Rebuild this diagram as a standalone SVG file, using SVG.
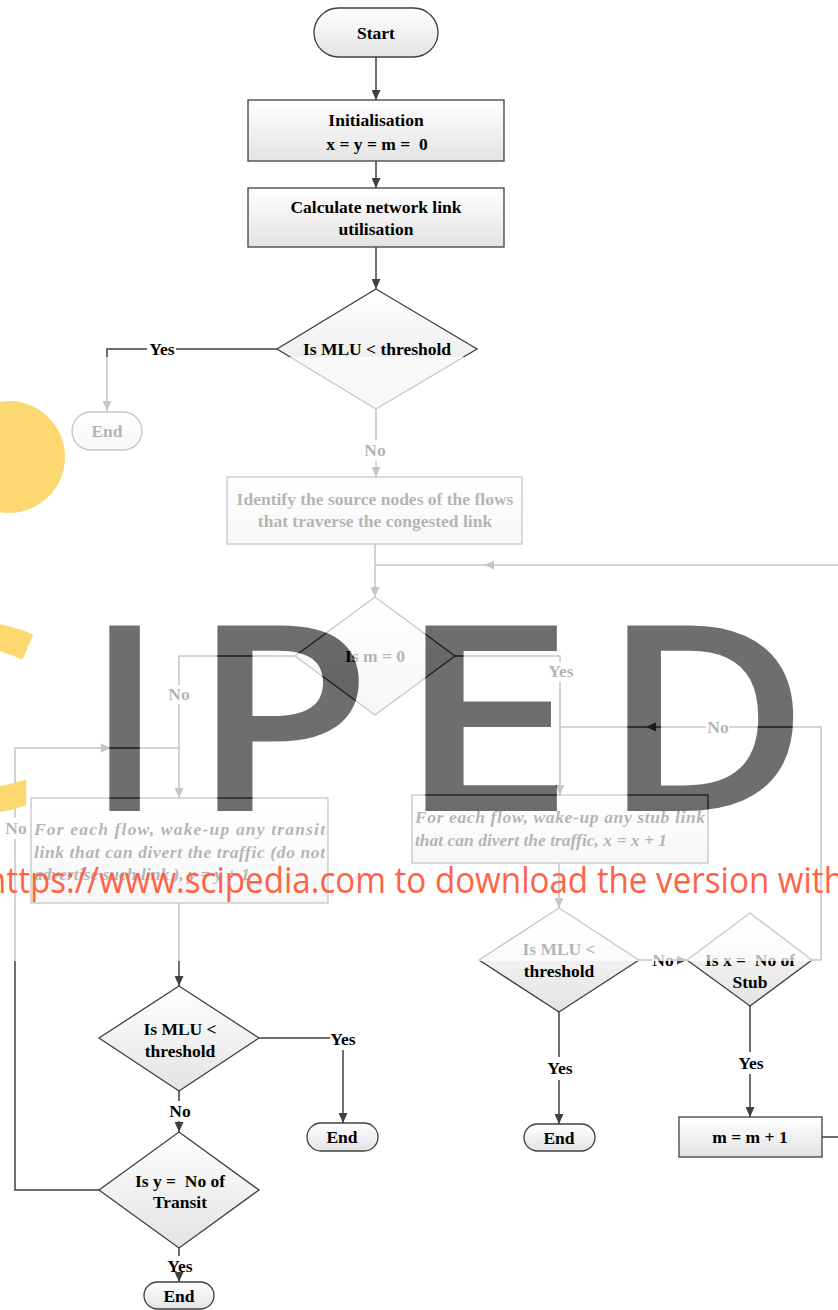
<svg xmlns="http://www.w3.org/2000/svg" xmlns:xlink="http://www.w3.org/1999/xlink" width="838" height="1310" viewBox="0 0 838 1310">
<style>
.n{fill:url(#g);stroke:#404040;stroke-width:1.3}
.t{font-family:"Liberation Serif","Times New Roman",serif;font-weight:bold;font-size:17.5px;fill:#000;text-anchor:middle}
.i{font-style:italic;text-anchor:start}
.c{fill:none;stroke:#404040;stroke-width:1.5}
.a{marker-end:url(#arr)}
.ah{fill:#404040}
</style>
<defs>
<linearGradient id="g" x1="0" y1="0" x2="0" y2="1">
<stop offset="0" stop-color="#ffffff"/>
<stop offset="1" stop-color="#e3e3e3"/>
</linearGradient>
<marker id="arr" markerUnits="userSpaceOnUse" markerWidth="10" markerHeight="9" refX="10" refY="4.5" orient="auto">
<path d="M0,0 L10,4.5 L0,9 z" fill="#404040"/>
</marker>
<g id="wm" font-family="'Open Sans','Noto Sans',sans-serif" font-weight="600" font-size="260">
<text x="85" y="811">I</text>
<text transform="translate(189.4,811) scale(1.15,1)">P</text>
<text transform="translate(395,811) scale(1.25,1)">E</text>
<text transform="translate(600.6,811) scale(1.1,1)">D</text>
</g>
<mask id="mk" maskUnits="userSpaceOnUse" x="0" y="0" width="838" height="1310">
<rect width="838" height="1310" fill="#fff"/>
<use xlink:href="#wm" fill="#000"/>
</mask>
</defs>

<g id="connectors">
<path class="c a" d="M376,57 V100"/>
<path class="c a" d="M376,161 V188"/>
<path class="c a" d="M376,247 V289"/>
<path class="c" d="M277,349 H176"/>
<path class="c a" d="M147,349 H107 V411"/>
<path class="c" d="M376,409 V440"/>
<path class="c a" d="M376,461 V477"/>
<path class="c a" d="M375,544 V597"/>
<path class="c" d="M838,565 H375"/>
<polygon class="ah" points="484,565 494,560.5 494,569.5"/>
<path class="c" d="M295,656 H179 V685"/>
<path class="c a" d="M179,704 V798"/>
<path class="c" d="M455,656 H560 V662"/>
<path class="c a" d="M560,682 V795"/>
<path class="c" d="M99,1190 H15 V839"/>
<path class="c" d="M15,818 V748 H179"/>
<polygon class="ah" points="111,748 101,743.5 101,752.5"/>
<path class="c a" d="M179,903 V986"/>
<path class="c" d="M259,1038 H330"/>
<path class="c a" d="M343,1050 V1123"/>
<path class="c" d="M179,1091 V1101"/>
<path class="c a" d="M179,1121 V1132"/>
<path class="c" d="M179,1248 V1256"/>
<path class="c a" d="M179,1276 V1282"/>
<path class="c a" d="M559,863 V908"/>
<path class="c" d="M639,960 H652"/>
<path class="c a" d="M672,960 H687"/>
<path class="c" d="M812,960 H821 V727 H729"/>
<path class="c" d="M706,727 H560"/>
<polygon class="ah" points="646,727 656,722.5 656,731.5"/>
<path class="c" d="M750,1006 V1052"/>
<path class="c a" d="M750,1074 V1117"/>
<path class="c" d="M559,1012 V1057"/>
<path class="c a" d="M559,1080 V1124"/>
<path class="c" d="M822,1137 H838"/>
</g>

<g id="start"><rect class="n" x="314" y="8" width="124" height="49" rx="24.5"/><text class="t" x="376" y="39">Start</text></g>
<g id="init"><rect class="n" x="248" y="100" width="256" height="61"/><text class="t" x="376" y="126">Initialisation</text><text class="t" x="377" y="150">x = y = m = &#160;0</text></g>
<g id="calc"><rect class="n" x="248" y="188" width="256" height="59"/><text class="t" x="376" y="213">Calculate network link</text><text class="t" x="376" y="235">utilisation</text></g>
<g id="mlu1"><polygon class="n" points="376,289 477,349 376,409 277,349"/><text class="t" x="377" y="355">Is MLU &lt; threshold</text></g>
<g id="end1"><rect class="n" x="72" y="412" width="70" height="38" rx="19"/><text class="t" x="107" y="437">End</text></g>
<g id="identify"><rect class="n" x="227" y="477" width="295" height="67"/><text class="t" x="375" y="505">Identify the source nodes of the flows</text><text class="t" x="375" y="527">that traverse the congested link</text></g>
<g id="m0"><polygon class="n" points="375,597 455,656 375,715 295,656"/><text class="t" x="375" y="662">Is m = 0</text></g>
<g id="transit"><rect class="n" x="31" y="798" width="297" height="105"/>
<text class="t i" x="34" y="835" textLength="291" lengthAdjust="spacing">For each flow, wake-up any transit</text>
<text class="t i" x="34" y="858" textLength="291" lengthAdjust="spacing">link that can divert the traffic (do not</text>
<text class="t i" x="34" y="880">advertise such link ), y = y + 1</text></g>
<g id="stub"><rect class="n" x="412" y="795" width="296" height="68"/>
<text class="t i" x="415" y="823" textLength="290" lengthAdjust="spacing">For each flow, wake-up any stub link</text>
<text class="t i" x="415" y="846">that can divert the traffic, x = x + 1</text></g>
<g id="mlu2"><polygon class="n" points="179,986 259,1038 179,1091 99,1038"/><text class="t" x="180" y="1035">Is MLU &lt;</text><text class="t" x="180" y="1057">threshold</text></g>
<g id="end2"><rect class="n" x="307" y="1123" width="71" height="28" rx="14"/><text class="t" x="342" y="1143">End</text></g>
<g id="ytransit"><polygon class="n" points="179,1132 259,1190 179,1248 99,1190"/><text class="t" x="180" y="1187">Is y = &#160;No of</text><text class="t" x="180" y="1208">Transit</text></g>
<g id="end3"><rect class="n" x="144" y="1282" width="70" height="27" rx="13.5"/><text class="t" x="179" y="1302">End</text></g>
<g id="mlu3"><polygon class="n" points="559,908 639,960 559,1012 479,960"/><text class="t" x="559" y="955">Is MLU &lt;</text><text class="t" x="559" y="977">threshold</text></g>
<g id="xstub"><polygon class="n" points="750,913 812,960 750,1006 687,960"/><text class="t" x="750" y="966">Is x = &#160;No of</text><text class="t" x="750" y="988">Stub</text></g>
<g id="end4"><rect class="n" x="524" y="1124" width="71" height="27" rx="13.5"/><text class="t" x="559" y="1144">End</text></g>
<g id="minc"><rect class="n" x="679" y="1117" width="143" height="40"/><text class="t" x="750" y="1143">m = m + 1</text></g>

<g id="labels">
<text class="t" x="162" y="355">Yes</text>
<text class="t" x="375" y="456">No</text>
<text class="t" x="179" y="700">No</text>
<text class="t" x="561" y="677">Yes</text>
<text class="t" x="718" y="733">No</text>
<text class="t" x="16" y="834">No</text>
<text class="t" x="343" y="1045">Yes</text>
<text class="t" x="180" y="1117">No</text>
<text class="t" x="180" y="1272">Yes</text>
<text class="t" x="663" y="966">No</text>
<text class="t" x="751" y="1069">Yes</text>
<text class="t" x="560" y="1074">Yes</text>
</g>

<g id="watermark">
<rect x="0" y="357" width="838" height="604" fill="#fff" fill-opacity="0.7" mask="url(#mk)"/>
<use xlink:href="#wm" fill="#000" fill-opacity="0.57"/>
<circle cx="9" cy="457" r="56" fill="#fdd770"/>
<text x="-123" y="811" font-family="'Open Sans','Noto Sans',sans-serif" font-weight="600" font-size="260" fill="#fdd770">C</text>
<text x="-14" y="893" font-family="'Open Sans','Noto Sans',sans-serif" font-size="37" fill="#ff6347" textLength="858" lengthAdjust="spacingAndGlyphs">https://www.scipedia.com to download the version with</text>
</g>
</svg>
